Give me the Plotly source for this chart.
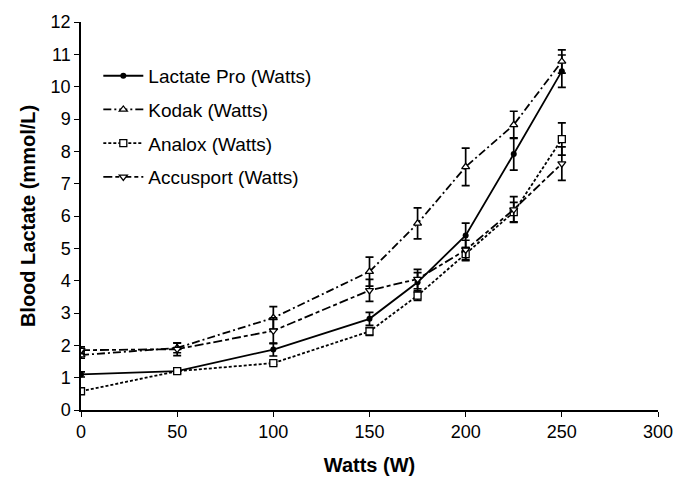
import plotly.graph_objects as go

watts = [0, 50, 100, 150, 175, 200, 225, 250]

lactate_pro = [1.10, 1.20, 1.87, 2.82, 3.95, 5.40, 7.92, 10.48]
lactate_pro_err = [0.08, 0.08, 0.20, 0.20, 0.30, 0.38, 0.50, 0.50]

kodak = [1.70, 1.92, 2.85, 4.28, 5.77, 7.52, 8.82, 10.78]
kodak_err = [0.10, 0.15, 0.35, 0.45, 0.48, 0.58, 0.42, 0.36]

analox = [0.58, 1.20, 1.45, 2.43, 3.54, 4.82, 6.12, 8.38]
analox_err = [0.05, 0.05, 0.05, 0.12, 0.15, 0.20, 0.30, 0.50]

accusport = [1.85, 1.88, 2.45, 3.70, 4.05, 4.95, 6.20, 7.62]
accusport_err = [0.10, 0.20, 0.40, 0.34, 0.30, 0.30, 0.40, 0.52]

names = ["Lactate Pro (Watts)", "Kodak (Watts)", "Analox (Watts)", "Accusport (Watts)"]
x_ticks = [0, 50, 100, 150, 200, 250, 300]
y_ticks = list(range(0, 13))

FONT = "Liberation Sans, Arial, sans-serif"

series = [
    (names[0], lactate_pro, lactate_pro_err, "solid", dict(symbol="circle", size=6, color="black")),
    (names[1], kodak, kodak_err, "8px,3px,2px,3px",
     dict(symbol="triangle-up", size=7, color="white", line=dict(color="black", width=1.3))),
    (names[2], analox, analox_err, "3px,2px",
     dict(symbol="square", size=7, color="white", line=dict(color="black", width=1.3))),
    (names[3], accusport, accusport_err, "9px,3px,4px,3px",
     dict(symbol="triangle-down", size=7, color="white", line=dict(color="black", width=1.3))),
]

fig = go.Figure()
for i, (nm, ys, err, dash, mk) in enumerate(series):
    fig.add_trace(go.Scatter(
        x=watts, y=ys, name=nm, mode="lines+markers",
        line=dict(color="black", width=1.8, dash=dash),
        marker=mk,
        error_y=dict(type="data", array=err, visible=True, color="black",
                     thickness=1.7, width=4),
        legendgroup=f"g{i}",
    ))

fig.update_layout(
    width=690, height=485,
    margin=dict(l=81, r=32, t=19, b=72),
    paper_bgcolor="white", plot_bgcolor="white",
    font=dict(family=FONT, size=18, color="black"),
    showlegend=True,
    legend=dict(x=0.03, y=0.91, xanchor="left", yanchor="top",
                bgcolor="rgba(0,0,0,0)", font=dict(size=19, family=FONT),
                tracegroupgap=6, itemwidth=40),
    xaxis=dict(range=[0, 300], tickvals=x_ticks, showgrid=False, zeroline=False,
               showline=True, linecolor="black", linewidth=1.5,
               ticks="outside", ticklen=5, tickwidth=1.3, tickcolor="black",
               tickfont=dict(size=18, family=FONT),
               title=dict(text="<b>Watts (W)</b>", font=dict(size=20, family=FONT), standoff=17)),
    yaxis=dict(range=[0, 12], tickvals=y_ticks, showgrid=False, zeroline=False,
               showline=True, linecolor="black", linewidth=1.5,
               ticks="outside", ticklen=5, tickwidth=1.3, tickcolor="black",
               tickfont=dict(size=18, family=FONT),
               title=dict(text="<b>Blood Lactate (mmol/L)</b>", font=dict(size=20, family=FONT), standoff=10)),
)

fig.write_html("out.html")
